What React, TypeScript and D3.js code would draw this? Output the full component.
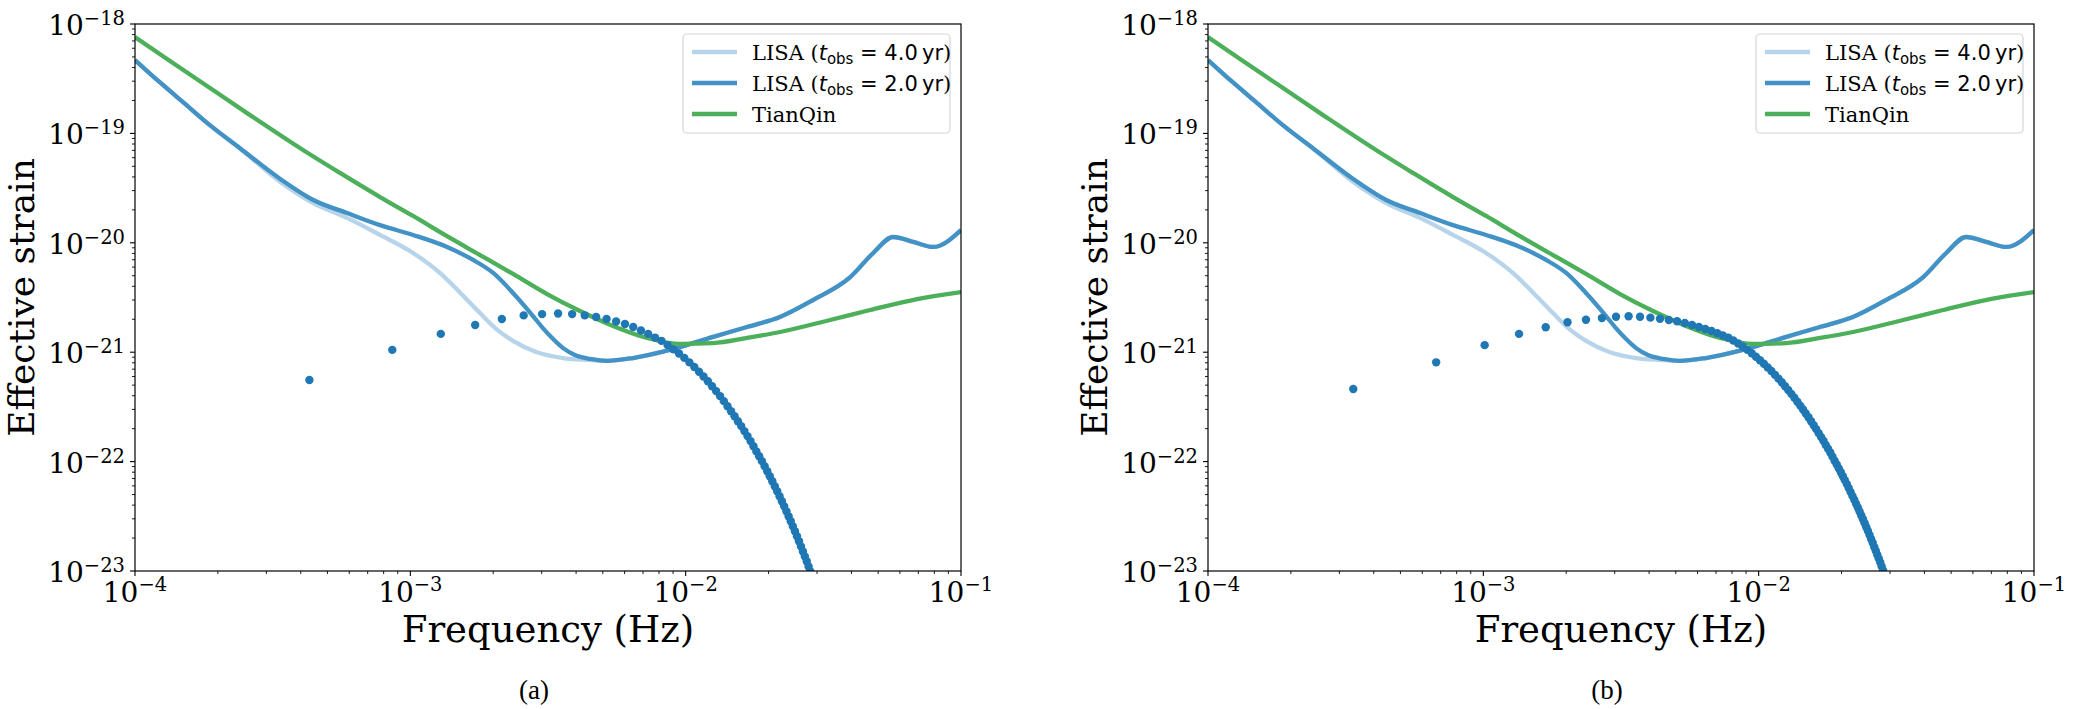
import React from "react";
import * as d3 from "d3";

// LISA sensitivity, t_obs = 4.0 yr (frequency in Hz, effective strain)
const lisa4Freq = [1.0e-4, 1.233e-4, 1.52e-4, 1.87e-4, 2.4e-4, 3.37e-4, 4.44e-4, 5.89e-4, 7.76e-4, 1.023e-3, 1.28e-3, 1.52e-3, 1.79e-3, 2.07e-3, 2.36e-3, 2.88e-3, 3.59e-3, 4.38e-3, 5.18e-3, 6.44e-3, 8.77e-3, 1.26e-2, 1.67e-2, 2.2e-2, 2.9e-2, 3.96e-2, 4.8e-2, 5.67e-2, 6.7e-2, 7.92e-2, 1.0e-1];
const lisa4Strain = [4.69e-19, 2.92e-19, 1.86e-19, 1.19e-19, 7.3e-20, 3.6e-20, 2.31e-20, 1.69e-20, 1.18e-20, 8.07e-21, 5.3e-21, 3.48e-21, 2.28e-21, 1.6e-21, 1.27e-21, 1.0e-21, 8.85e-22, 8.49e-22, 8.32e-22, 8.85e-22, 1.05e-21, 1.38e-21, 1.7e-21, 2.1e-21, 3.0e-21, 4.86e-21, 8.07e-21, 1.13e-20, 1.02e-20, 9.16e-21, 1.31e-20];

// LISA sensitivity, t_obs = 2.0 yr
const lisa2Freq = [1.0e-4, 1.233e-4, 1.52e-4, 1.87e-4, 2.4e-4, 3.37e-4, 4.44e-4, 5.89e-4, 7.76e-4, 1.023e-3, 1.36e-3, 1.69e-3, 2.0e-3, 2.36e-3, 2.79e-3, 3.03e-3, 3.3e-3, 3.59e-3, 3.96e-3, 4.5e-3, 5.18e-3, 6.44e-3, 8.77e-3, 1.26e-2, 1.67e-2, 2.2e-2, 2.9e-2, 3.96e-2, 4.8e-2, 5.67e-2, 6.7e-2, 7.92e-2, 1.0e-1];
const lisa2Strain = [4.69e-19, 2.92e-19, 1.86e-19, 1.19e-19, 7.36e-20, 3.83e-20, 2.46e-20, 1.87e-20, 1.45e-20, 1.18e-20, 9.16e-21, 6.97e-21, 5.3e-21, 3.48e-21, 2.14e-21, 1.66e-21, 1.32e-21, 1.09e-21, 9.42e-22, 8.67e-22, 8.32e-22, 8.85e-22, 1.05e-21, 1.38e-21, 1.7e-21, 2.1e-21, 3.0e-21, 4.86e-21, 8.07e-21, 1.13e-20, 1.02e-20, 9.16e-21, 1.31e-20];

// TianQin sensitivity
const tianqinFreq = [1.0e-4, 1.34e-4, 1.873e-4, 2.617e-4, 4.075e-4, 5.554e-4, 7.758e-4, 1.023e-3, 1.359e-3, 1.791e-3, 2.36e-3, 3.137e-3, 4.133e-3, 5.447e-3, 7.24e-3, 9.54e-3, 1.258e-2, 1.671e-2, 2.203e-2, 3.345e-2, 4.675e-2, 6.93e-2, 1.0e-1];
const tianqinStrain = [7.6e-19, 4.59e-19, 2.6e-19, 1.47e-19, 7.05e-20, 4.35e-20, 2.62e-20, 1.76e-20, 1.15e-20, 7.73e-21, 5.19e-21, 3.4e-21, 2.38e-21, 1.74e-21, 1.35e-21, 1.19e-21, 1.21e-21, 1.35e-21, 1.53e-21, 1.97e-21, 2.43e-21, 3.06e-21, 3.55e-21];

// panel (a) harmonics: frequency in mHz, strain in units of 1e-22
const harmonicsAFreq = [0.43, 0.86, 1.29, 1.72, 2.15, 2.58, 3.01, 3.44, 3.87, 4.30, 4.73, 5.16, 5.59, 6.02, 6.45, 6.88, 7.31, 7.74, 8.17, 8.60, 9.03, 9.46, 9.89, 10.32, 10.75, 11.18, 11.61, 12.04, 12.47, 12.90, 13.33, 13.76, 14.19, 14.62, 15.05, 15.48, 15.91, 16.34, 16.77, 17.20, 17.63, 18.06, 18.49, 18.92, 19.35, 19.78, 20.21, 20.64, 21.07, 21.50, 21.93, 22.36, 22.79, 23.22, 23.65, 24.08, 24.51, 24.94, 25.37, 25.80, 26.23, 26.66, 27.09, 27.52, 27.95, 28.38, 28.81];
const harmonicsAStrain = [5.57, 10.5, 14.7, 17.7, 20.1, 21.7, 22.3, 22.6, 22.3, 21.7, 21.0, 20.1, 19.1, 18.1, 17.0, 15.8, 14.7, 13.6, 12.7, 11.6, 10.65, 9.73, 8.87, 8.07, 7.32, 6.63, 6.0, 5.42, 4.89, 4.41, 3.97, 3.57, 3.21, 2.89, 2.6, 2.34, 2.11, 1.9, 1.71, 1.54, 1.38, 1.24, 1.12, 1.01, 0.907, 0.816, 0.735, 0.661, 0.595, 0.536, 0.482, 0.434, 0.39, 0.351, 0.316, 0.285, 0.256, 0.231, 0.208, 0.187, 0.168, 0.151, 0.136, 0.123, 0.11, 0.099, 0.089];

// panel (b) harmonics
const harmonicsBFreq = [0.337, 0.674, 1.011, 1.348, 1.685, 2.022, 2.359, 2.696, 3.033, 3.37, 3.707, 4.044, 4.381, 4.718, 5.055, 5.392, 5.729, 6.066, 6.403, 6.74, 7.077, 7.414, 7.751, 8.088, 8.425, 8.762, 9.099, 9.436, 9.773, 10.11, 10.447, 10.784, 11.121, 11.458, 11.795, 12.132, 12.469, 12.806, 13.143, 13.48, 13.817, 14.154, 14.491, 14.828, 15.165, 15.502, 15.839, 16.176, 16.513, 16.85, 17.187, 17.524, 17.861, 18.198, 18.535, 18.872, 19.209, 19.546, 19.883, 20.22, 20.557, 20.894, 21.231, 21.568, 21.905, 22.242, 22.579, 22.916, 23.253, 23.59, 23.927, 24.264, 24.601, 24.938, 25.275, 25.612, 25.949, 26.286, 26.623, 26.96, 27.297, 27.634, 27.971, 28.308, 28.645, 28.982];
const harmonicsBStrain = [4.61, 8.08, 11.6, 14.7, 16.9, 18.8, 19.8, 20.5, 21.1, 21.3, 21.1, 20.7, 20.2, 19.7, 19.2, 18.5, 17.7, 17.0, 16.3, 15.6, 14.9, 14.2, 13.6, 12.8, 12.0, 11.2, 10.5, 9.79, 9.1, 8.45, 7.85, 7.26, 6.73, 6.21, 5.74, 5.31, 4.89, 4.51, 4.16, 3.83, 3.53, 3.25, 2.99, 2.75, 2.54, 2.34, 2.15, 1.98, 1.82, 1.68, 1.55, 1.42, 1.31, 1.21, 1.11, 1.02, 0.941, 0.867, 0.798, 0.735, 0.677, 0.623, 0.574, 0.528, 0.486, 0.448, 0.412, 0.38, 0.35, 0.322, 0.297, 0.273, 0.251, 0.232, 0.213, 0.196, 0.181, 0.166, 0.153, 0.141, 0.13, 0.12, 0.11, 0.101, 0.093, 0.086];

const xTickExps = [-4, -3, -2, -1];
const yTickExps = [-18, -19, -20, -21, -22, -23];
const minorMultipliers = [2, 3, 4, 5, 6, 7, 8, 9];
const legendItems = [
  { label: "4.0", color: "#b7d4ea" },
  { label: "2.0", color: "#4292c6" },
  { label: "TianQin", color: "#4caf5a" },
];

const W = 2082;
const H = 709;
const TOP = 24;
const BOTTOM = 571;
const PANEL_W = 826;
const SERIF = "DejaVu Serif";
const SANS = "DejaVu Sans";

const toPairs = (xs, ys, kx = 1, ky = 1) => xs.map((x, i) => [x * kx, ys[i] * ky]);

const curves = [
  { data: toPairs(lisa4Freq, lisa4Strain), color: "#b7d4ea" },
  { data: toPairs(lisa2Freq, lisa2Strain), color: "#4292c6" },
  { data: toPairs(tianqinFreq, tianqinStrain), color: "#4caf5a" },
];

const panels = [
  { id: "a", left: 135, caption: "(a)", dots: toPairs(harmonicsAFreq, harmonicsAStrain, 1e-3, 1e-22) },
  { id: "b", left: 1208, caption: "(b)", dots: toPairs(harmonicsBFreq, harmonicsBStrain, 1e-3, 1e-22) },
];

function Panel({ id, left, caption, dots }) {
  const right = left + PANEL_W;
  const x = d3.scaleLog().domain([1e-4, 1e-1]).range([left, right]);
  const y = d3.scaleLog().domain([1e-23, 1e-18]).range([BOTTOM, TOP]);
  const line = d3
    .line()
    .x((d) => x(d[0]))
    .y((d) => y(d[1]))
    .curve(d3.curveMonotoneX);

  const xMinor = xTickExps.slice(0, -1).flatMap((e) => minorMultipliers.map((m) => m * Math.pow(10, e)));
  const yMinor = yTickExps.slice(1).flatMap((e) => minorMultipliers.map((m) => m * Math.pow(10, e)));

  // legend box, anchored to the upper-right corner
  const boxR = right - 11;
  const boxL = boxR - 267;
  const boxT = TOP + 10;
  const midX = (left + right) / 2;
  const midY = (TOP + BOTTOM) / 2;

  return (
    <g>
      <defs>
        <clipPath id={`clip-${id}`}>
          <rect x={left} y={TOP} width={PANEL_W} height={BOTTOM - TOP} />
        </clipPath>
      </defs>

      <g clipPath={`url(#clip-${id})`}>
        {curves.map((c, i) => (
          <path key={i} d={line(c.data)} fill="none" stroke={c.color} strokeWidth={4.3} />
        ))}
        {dots.map((d, i) => (
          <circle key={i} cx={x(d[0])} cy={y(d[1])} r={4.2} fill="#1f77b4" />
        ))}
      </g>

      <rect x={left} y={TOP} width={PANEL_W} height={BOTTOM - TOP} fill="none" stroke="#000" strokeWidth={1.2} />

      {/* x ticks */}
      {xMinor.map((v, i) => (
        <line key={i} x1={x(v)} x2={x(v)} y1={BOTTOM} y2={BOTTOM + 3} stroke="#000" strokeWidth={0.9} />
      ))}
      {xTickExps.map((e) => (
        <g key={e}>
          <line x1={x(Math.pow(10, e))} x2={x(Math.pow(10, e))} y1={BOTTOM} y2={BOTTOM + 5} stroke="#000" strokeWidth={1.1} />
          <text x={x(Math.pow(10, e))} y={BOTTOM + 31} textAnchor="middle" fontFamily={SERIF} fontSize={28}>
            10
            <tspan dy={-11} fontSize={19.5}>{`\u2212${-e}`}</tspan>
          </text>
        </g>
      ))}

      {/* y ticks */}
      {yMinor.map((v, i) => (
        <line key={i} x1={left - 3} x2={left} y1={y(v)} y2={y(v)} stroke="#000" strokeWidth={0.9} />
      ))}
      {yTickExps.map((e) => (
        <g key={e}>
          <line x1={left - 5} x2={left} y1={y(Math.pow(10, e))} y2={y(Math.pow(10, e))} stroke="#000" strokeWidth={1.1} />
          <text x={left - 10} y={y(Math.pow(10, e)) + 11} textAnchor="end" fontFamily={SERIF} fontSize={28}>
            10
            <tspan dy={-10} fontSize={19.5}>{`\u2212${-e}`}</tspan>
          </text>
        </g>
      ))}

      <text x={midX} y={642} textAnchor="middle" fontFamily={SERIF} fontSize={37}>
        Frequency (Hz)
      </text>
      <text transform={`translate(${left - 101},${midY}) rotate(-90)`} textAnchor="middle" fontFamily={SERIF} fontSize={36}>
        Effective strain
      </text>
      <text x={midX - 14} y={699} textAnchor="middle" fontFamily="Liberation Serif" fontSize={27}>
        {caption}
      </text>

      {/* legend */}
      <rect x={boxL} y={boxT} width={boxR - boxL} height={99} rx={4} fill="#fff" fillOpacity={0.8} stroke="#d6d6d6" strokeWidth={1.2} />
      {legendItems.map((item, i) => {
        const cy = boxT + 18 + i * 31;
        return (
          <g key={item.label}>
            <line x1={boxL + 9} x2={boxL + 54} y1={cy} y2={cy} stroke={item.color} strokeWidth={4.3} />
            {item.label === "TianQin" ? (
              <text x={boxL + 69} y={cy + 7.5} fontFamily={SERIF} fontSize={21}>
                TianQin
              </text>
            ) : (
              <text x={boxL + 69} y={cy + 7.5} fontFamily={SERIF} fontSize={21}>
                LISA (
                <tspan fontFamily={SANS} fontStyle="italic">t</tspan>
                <tspan fontFamily={SANS} fontSize={15} dy={4}>obs</tspan>
                <tspan fontFamily={SANS} dy={-4}>{` = ${item.label}\u2009yr`}</tspan>)
              </text>
            )}
          </g>
        );
      })}
    </g>
  );
}

export default function App() {
  return (
    <svg
      width={W}
      height={H}
      viewBox={`0 0 ${W} ${H}`}
      style={{ position: "absolute", left: 0, top: 0, background: "#fff" }}
    >
      <rect width={W} height={H} fill="#fff" />
      {panels.map((p) => (
        <Panel key={p.id} {...p} />
      ))}
    </svg>
  );
}
